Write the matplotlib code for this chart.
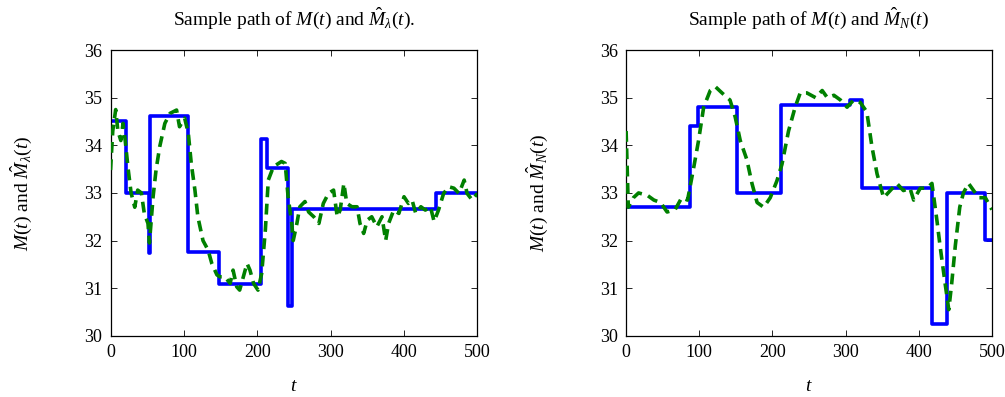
import numpy as np
import matplotlib
matplotlib.use("Agg")
import matplotlib.pyplot as plt

plt.rcParams['font.family'] = ['Liberation Serif', 'DejaVu Serif']
plt.rcParams['mathtext.fontset'] = 'custom'
plt.rcParams['mathtext.rm'] = 'Liberation Serif'
plt.rcParams['mathtext.it'] = 'Liberation Serif:italic'

# left panel: true path M(t) (step changes) and estimate M_lambda(t)
left_step_t = [0, 21, 52, 54, 106, 148, 205, 213, 242, 248, 443, 500]
left_step_m = [34.52, 33.0, 31.73, 34.62, 31.77, 31.09, 34.13, 33.53, 30.63, 32.66, 32.99, 32.99]

left_est_t = [0, 3, 7, 10, 14, 17, 20, 24, 28, 33, 37, 42, 46, 51, 53, 58, 62, 67, 74, 81,
              90, 94, 101, 106, 110, 115, 119, 126, 133, 138, 145, 149, 156, 163, 167, 172,
              176, 181, 186, 190, 195, 201, 206, 211, 215, 222, 229, 233, 238, 242, 247, 249,
              254, 258, 265, 270, 277, 284, 290, 297, 304, 309, 313, 318, 322, 329, 336, 340,
              345, 350, 356, 363, 370, 375, 379, 386, 393, 400, 406, 411, 416, 423, 429, 436,
              441, 447, 454, 461, 468, 475, 482, 486, 493, 500]
left_est_m = [33.48, 34.3, 34.75, 34.3, 34.1, 34.46, 34.1, 33.5, 33.0, 32.7, 33.06, 33.0,
              32.57, 32.36, 31.95, 32.92, 33.48, 33.97, 34.46, 34.67, 34.74, 34.39, 34.57,
              34.25, 33.62, 33.06, 32.5, 32.0, 31.8, 31.52, 31.28, 31.24, 31.24, 31.1, 31.38,
              31.03, 30.96, 31.24, 31.52, 31.38, 31.1, 30.96, 31.31, 32.22, 33.27, 33.55,
              33.62, 33.66, 33.62, 32.92, 32.36, 32.0, 32.36, 32.71, 32.82, 32.6, 32.5, 32.36,
              32.78, 32.99, 33.06, 32.5, 32.64, 33.2, 32.78, 32.71, 32.71, 32.36, 32.15, 32.43,
              32.5, 32.29, 32.5, 32.0, 32.36, 32.64, 32.57, 32.92, 32.78, 32.85, 32.57, 32.71,
              32.64, 32.71, 32.4, 32.64, 32.99, 33.13, 33.1, 32.99, 33.27, 32.99, 32.85, 32.99]

# right panel: true path M(t) and estimate M_N(t)
right_step_t = [0, 87, 98, 151, 212, 306, 323, 418, 438, 491, 500]
right_step_m = [32.7, 34.41, 34.8, 32.99, 34.85, 34.95, 33.1, 30.24, 33.0, 32.01, 32.01]

right_est_t = [0, 3, 10, 17, 29, 38, 47, 56, 67, 76, 84, 92, 99, 106, 115, 122, 131, 142,
               149, 156, 165, 172, 179, 188, 197, 206, 213, 222, 231, 238, 247, 259, 268,
               275, 284, 293, 302, 311, 320, 329, 336, 343, 352, 361, 370, 379, 388, 393,
               402, 411, 418, 425, 429, 436, 441, 445, 450, 456, 461, 468, 475, 482, 491, 500]
right_est_m = [34.3, 32.7, 32.9, 33.0, 32.95, 32.85, 32.8, 32.6, 32.65, 32.9, 32.85, 33.5,
               34.1, 34.8, 35.15, 35.23, 35.1, 34.95, 34.6, 34.1, 33.7, 33.2, 32.8, 32.7,
               32.9, 33.25, 33.6, 34.3, 34.8, 35.1, 35.1, 35.0, 35.15, 35.0, 35.05, 34.95,
               34.8, 34.95, 34.9, 34.7, 33.97, 33.4, 32.9, 33.05, 33.2, 33.05, 33.1, 32.85,
               33.1, 33.1, 33.2, 32.4, 31.9, 31.1, 30.55, 31.1, 31.9, 32.7, 33.0, 33.2,
               33.05, 32.9, 32.9, 32.65]

titles = [r'Sample path of $M(t)$ and $\hat{M}_{\lambda}(t)$.',
          r'Sample path of $M(t)$ and $\hat{M}_{N}(t)$']
ylabels = [r'$M(t)$ and $\hat{M}_{\lambda}(t)$', r'$M(t)$ and $\hat{M}_{N}(t)$']

fig = plt.figure(figsize=(10.05, 3.97), dpi=100)
ax1 = fig.add_axes([0.110, 0.154, 0.365, 0.720])
ax2 = fig.add_axes([0.623, 0.154, 0.364, 0.720])

panels = [(ax1, left_step_t, left_step_m, left_est_t, left_est_m),
          (ax2, right_step_t, right_step_m, right_est_t, right_est_m)]

for i, (ax, st, sm, et, em) in enumerate(panels):
    ax.step(st, sm, where='post', color=(0, 0, 1), lw=2.6, zorder=2)
    ax.plot(et, em, color=(0, 0.5, 0), lw=2.6, dashes=(3, 1.8), zorder=3)
    ax.set_xlim(0, 500)
    ax.set_ylim(30, 36)
    ax.set_xticks([0, 100, 200, 300, 400, 500])
    ax.set_yticks([30, 31, 32, 33, 34, 35, 36])
    ax.tick_params(direction='in', top=True, right=True, length=4, width=0.6,
                   labelsize=13, pad=6)
    for sp in ax.spines.values():
        sp.set_linewidth(0.9)
    ax.set_title(titles[i], fontsize=14, pad=18)
    ax.set_xlabel(r'$t$', fontsize=14, labelpad=12)
    ax.set_ylabel(ylabels[i], fontsize=14, labelpad=36)

fig.savefig('out.png', dpi=100)
